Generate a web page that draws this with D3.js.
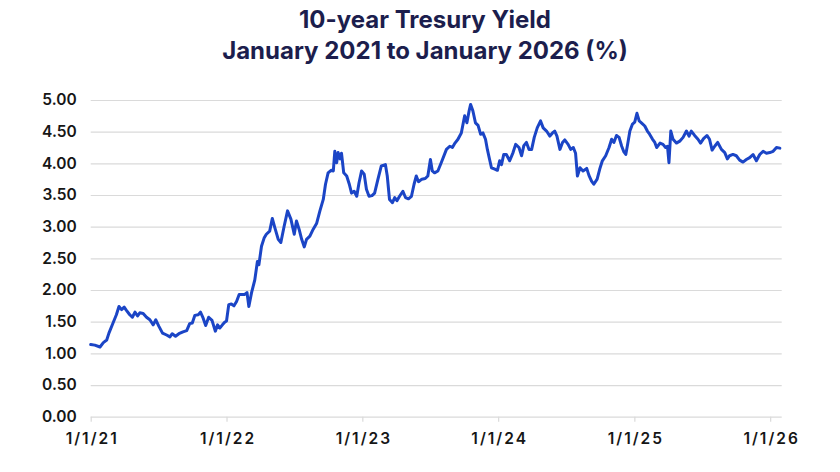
<!DOCTYPE html>
<html>
<head>
<meta charset="utf-8">
<script src="https://cdn.jsdelivr.net/npm/d3@7"></script>
<style>
  html, body { margin: 0; padding: 0; background: #fff; }
  svg { display: block; }
</style>
</head>
<body>
<svg id="chart" width="840" height="472"></svg>
<script>
const titleLines = ["10-year Tresury Yield", "January 2021 to January 2026 (%)"];
const yTickValues = [0, 0.5, 1, 1.5, 2, 2.5, 3, 3.5, 4, 4.5, 5];
const xTickLabels = ["2021-01-01", "2022-01-01", "2023-01-01", "2024-01-01", "2025-01-01", "2026-01-01"];

const dates = [
"2021-01-01","2021-01-12","2021-01-26","2021-02-04","2021-02-13","2021-02-19","2021-03-02","2021-03-11","2021-03-18","2021-03-25",
"2021-04-01","2021-04-07","2021-04-16","2021-04-23","2021-04-30","2021-05-07","2021-05-13","2021-05-22","2021-05-31","2021-06-09",
"2021-06-18","2021-06-25","2021-07-03","2021-07-13","2021-07-24","2021-08-02","2021-08-08","2021-08-17","2021-08-26","2021-09-06",
"2021-09-16","2021-09-24","2021-10-01","2021-10-08","2021-10-17","2021-10-23","2021-10-30","2021-11-06","2021-11-14","2021-11-23",
"2021-12-02","2021-12-08","2021-12-14","2021-12-21","2021-12-27","2022-01-01","2022-01-07","2022-01-14","2022-01-21","2022-01-28",
"2022-02-04","2022-02-12","2022-02-19","2022-02-25","2022-03-02","2022-03-09","2022-03-18","2022-03-25","2022-03-29","2022-04-05",
"2022-04-12","2022-04-18","2022-04-27","2022-05-04","2022-05-11","2022-05-20","2022-05-27","2022-06-05","2022-06-14","2022-06-23",
"2022-07-02","2022-07-08","2022-07-15","2022-07-22","2022-07-29","2022-08-04","2022-08-13","2022-08-22","2022-08-31","2022-09-09",
"2022-09-18","2022-09-24","2022-10-01","2022-10-09","2022-10-15","2022-10-19","2022-10-24","2022-10-28","2022-11-02","2022-11-06",
"2022-11-12","2022-11-20","2022-11-27","2022-12-03","2022-12-10","2022-12-17","2022-12-23","2022-12-30","2023-01-06","2023-01-12",
"2023-01-19","2023-01-27","2023-02-03","2023-02-12","2023-02-21","2023-03-04","2023-03-09","2023-03-15","2023-03-23","2023-03-29",
"2023-04-04","2023-04-11","2023-04-20","2023-04-27","2023-05-05","2023-05-13","2023-05-20","2023-05-26","2023-06-01","2023-06-10",
"2023-06-19","2023-06-26","2023-07-03","2023-07-08","2023-07-14","2023-07-23","2023-08-01","2023-08-15","2023-08-24","2023-08-31",
"2023-09-07","2023-09-15","2023-09-24","2023-10-03","2023-10-09","2023-10-15","2023-10-19","2023-10-25","2023-11-01","2023-11-08",
"2023-11-15","2023-11-21","2023-11-28","2023-12-03","2023-12-09","2023-12-14","2023-12-23","2023-12-30","2024-01-05","2024-01-10",
"2024-01-16","2024-01-23","2024-02-01","2024-02-10","2024-02-17","2024-02-26","2024-03-04","2024-03-10","2024-03-17","2024-03-24",
"2024-03-31","2024-04-07","2024-04-15","2024-04-24","2024-05-01","2024-05-10","2024-05-19","2024-05-26","2024-06-01","2024-06-07",
"2024-06-15","2024-06-22","2024-06-28","2024-07-07","2024-07-14","2024-07-21","2024-07-27","2024-08-01","2024-08-08","2024-08-16",
"2024-08-26","2024-09-01","2024-09-08","2024-09-14","2024-09-23","2024-09-30","2024-10-07","2024-10-16","2024-10-25","2024-11-01",
"2024-11-07","2024-11-14","2024-11-21","2024-11-28","2024-12-04","2024-12-09","2024-12-14","2024-12-20","2024-12-27","2025-01-02",
"2025-01-08","2025-01-14","2025-01-20","2025-01-29","2025-02-05","2025-02-11","2025-02-19","2025-02-25","2025-03-02","2025-03-11",
"2025-03-19","2025-03-26","2025-03-31","2025-04-04","2025-04-09","2025-04-15","2025-04-24","2025-05-03","2025-05-12","2025-05-21",
"2025-05-28","2025-06-03","2025-06-12","2025-06-21","2025-06-28","2025-07-06","2025-07-15","2025-07-22","2025-07-29","2025-08-05",
"2025-08-13","2025-08-23","2025-09-01","2025-09-08","2025-09-14","2025-09-23","2025-10-02","2025-10-11","2025-10-20","2025-10-29",
"2025-11-07","2025-11-16","2025-11-25","2025-12-04","2025-12-13","2025-12-22","2025-12-31","2026-01-09","2026-01-18","2026-01-27"
];

const yields = [
1.14,1.13,1.10,1.17,1.21,1.32,1.48,1.61,1.74,1.69,
1.73,1.68,1.61,1.57,1.65,1.59,1.64,1.63,1.57,1.53,
1.45,1.53,1.43,1.32,1.29,1.26,1.31,1.27,1.31,1.34,
1.36,1.47,1.48,1.60,1.61,1.65,1.56,1.44,1.57,1.52,
1.35,1.45,1.40,1.45,1.49,1.51,1.77,1.78,1.75,1.82,
1.93,1.93,1.93,1.96,1.74,1.95,2.16,2.45,2.40,2.69,
2.82,2.88,2.93,3.13,2.98,2.80,2.75,3.01,3.25,3.12,
2.88,3.09,2.96,2.80,2.68,2.80,2.85,2.96,3.05,3.25,
3.43,3.67,3.85,3.89,3.88,4.19,4.01,4.17,4.07,4.16,
3.85,3.80,3.67,3.53,3.56,3.48,3.69,3.88,3.83,3.59,
3.48,3.49,3.53,3.75,3.96,3.98,3.80,3.43,3.38,3.46,
3.41,3.48,3.56,3.46,3.44,3.48,3.67,3.80,3.71,3.75,
3.76,3.80,4.06,3.88,3.85,3.88,4.01,4.22,4.27,4.25,
4.32,4.38,4.48,4.75,4.64,4.83,4.93,4.83,4.64,4.60,
4.46,4.48,4.38,4.22,4.06,3.93,3.91,3.89,4.04,3.98,
4.14,4.14,4.04,4.17,4.30,4.25,4.12,4.28,4.33,4.22,
4.22,4.41,4.56,4.67,4.56,4.51,4.43,4.48,4.51,4.43,
4.22,4.33,4.37,4.30,4.22,4.25,4.16,3.80,3.93,3.88,
3.92,3.81,3.72,3.67,3.75,3.91,4.04,4.12,4.25,4.38,
4.33,4.44,4.41,4.27,4.18,4.14,4.30,4.51,4.62,4.65,
4.79,4.67,4.64,4.59,4.51,4.46,4.38,4.33,4.25,4.32,
4.30,4.25,4.27,4.01,4.51,4.38,4.32,4.35,4.41,4.51,
4.43,4.51,4.44,4.38,4.32,4.39,4.44,4.38,4.21,4.27,
4.33,4.22,4.17,4.07,4.12,4.14,4.12,4.05,4.02,4.06,
4.09,4.14,4.04,4.14,4.19,4.16,4.17,4.19,4.25,4.24
];

const parse = d3.utcParse("%Y-%m-%d");
const data = dates.map((d, i) => ({ date: parse(d), value: yields[i] }));

const svg = d3.select("#chart");
const mLeft = 90.7, mRight = 781.7, mTop = 100, mBottom = 416.7;

const x = d3.scaleUtc()
  .domain([parse("2021-01-01"), parse("2026-02-01")])
  .range([mLeft, mRight]);
const y = d3.scaleLinear().domain([0, 5]).range([mBottom, mTop]);

// Title
const title = svg.append("text")
  .attr("x", 425)
  .attr("text-anchor", "middle")
  .attr("fill", "#1c1e4d")
  .style("font-family", "Inter, 'Noto Sans', sans-serif")
  .style("font-weight", 700)
  .style("font-size", "24px");
title.selectAll("tspan").data(titleLines).join("tspan")
  .attr("x", 425)
  .attr("y", (d, i) => 28 + i * 31)
  .text(d => d);

// Gridlines + y labels
const yAxis = d3.axisLeft(y)
  .tickValues(yTickValues)
  .tickSize(-(mRight - mLeft))
  .tickPadding(14)
  .tickFormat(d3.format(".2f"));
const gy = svg.append("g").attr("transform", `translate(${mLeft},0)`).call(yAxis);
gy.select(".domain").remove();
gy.selectAll(".tick line").attr("stroke", "#dadada").attr("stroke-width", 1.2);
gy.selectAll(".tick text")
  .attr("fill", "#161616")
  .style("font-family", "Inter, 'Noto Sans', sans-serif")
  .style("font-weight", 600)
  .style("font-size", "15.5px");

// X axis
const xAxis = d3.axisBottom(x)
  .tickValues(xTickLabels.map(parse))
  .tickSize(5)
  .tickPadding(11)
  .tickFormat(d3.utcFormat("%-m/%-d/%y"));
const gx = svg.append("g").attr("transform", `translate(0,${mBottom})`).call(xAxis);
gx.select(".domain").remove();
gx.selectAll(".tick line").attr("stroke", "#dadada").attr("stroke-width", 1.2);
gx.selectAll(".tick text")
  .attr("fill", "#161616")
  .attr("dx", "1px")
  .style("font-family", "Inter, 'Noto Sans', sans-serif")
  .style("font-weight", 600)
  .style("font-size", "15.5px")
  .style("letter-spacing", "2px");

// Line
const line = d3.line()
  .x(d => x(d.date))
  .y(d => y(d.value))
  .curve(d3.curveLinear);
svg.append("path")
  .datum(data)
  .attr("fill", "none")
  .attr("stroke", "#1b45c6")
  .attr("stroke-width", 3)
  .attr("stroke-linejoin", "round")
  .attr("stroke-linecap", "round")
  .attr("d", line);
</script>
</body>
</html>
